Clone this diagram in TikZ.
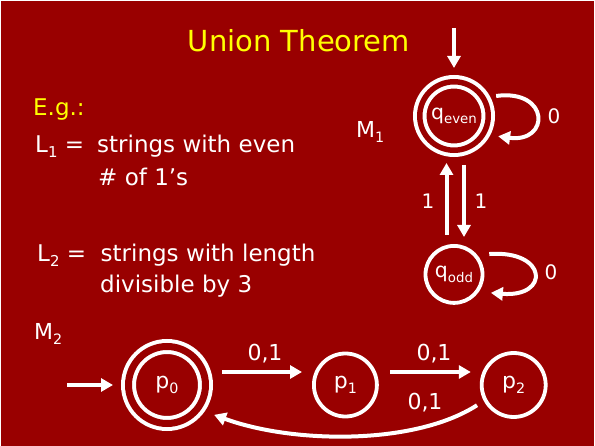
\documentclass[tikz,border=0pt]{standalone}
\usepackage{fontspec}
\setmainfont{DejaVu Sans}
\usepackage{xcolor}
\definecolor{bgred}{RGB}{153,0,0}
\definecolor{ttl}{RGB}{255,255,0}
\usetikzlibrary{arrows.meta,positioning,calc}
\makeatletter
\newcommand{\lowsub}[1]{\raisebox{-0.2em}{\fontsize{\fpeval{0.65*\f@size}}{0}\selectfont #1}}
\makeatother

\begin{document}
\begin{tikzpicture}[
  x=1pt,y=-1pt,
  txt/.style={anchor=base west,inner sep=0,text=white,font=\fontsize{23}{27}\selectfont},
  stnode/.style={circle,draw=white,line width=3.8pt,inner sep=0,text=white,font=\fontsize{22}{22}\selectfont},
  accnode/.style={stnode,line width=4pt,double=bgred},
  arr/.style={-{Triangle[length=12pt,width=13pt]},white,line width=4pt},
  lbl/.style={text=white,inner sep=0,font=\fontsize{20}{20}\selectfont}
]
  \useasboundingbox (0,0) rectangle (595,446);
  \fill[white] (0,0) rectangle (595,446);
  \fill[bgred] (1,1) rectangle (594,446);

  \node[txt,anchor=base,text=ttl,font=\fontsize{29}{29}\selectfont] (title) at (299,52) {Union Theorem};

  \node[txt,text=ttl] (eg) at (33,116) {E.g.:};
  \node[txt] (l1) at (35,153) {L\lowsub{1} =};
  \node[txt] (l1a) at (97,153) {strings with even};
  \node[txt] (l1b) at (98,186) {\# of 1’s};
  \node[txt] (l2) at (37,262) {L\lowsub{2} =};
  \node[txt] (l2a) at (100.5,262) {strings with length};
  \node[txt] (l2b) at (100,293) {divisible by 3};

  % M1
  \node[txt,font=\fontsize{22}{22}\selectfont] (m1) at (356,138) {M\lowsub{1}};
  \node[accnode,minimum size=68.5pt,double distance=5.5pt,outer sep=6.75pt,font=\fontsize{20.5}{20.5}\selectfont] (qeven) at (454,116) {q\lowsub{even}};
  \node[stnode,minimum size=57pt,below=87pt of qeven,font=\fontsize{20.5}{20.5}\selectfont] (qodd) {q\lowsub{odd}};
  \coordinate (in1) at (454,28);

  \draw[arr,shorten >=7pt] (in1) -- (qeven.north);
  \draw[arr,shorten <=6pt,shorten >=8pt] (qeven.28) .. controls +(60,-8) and +(60,8) .. (qeven.-28);
  \draw[arr,shorten <=12pt,shorten >=12pt] (qodd.40) .. controls +(71,-5) and +(71,6) .. (qodd.-35);
  \draw[arr,shorten <=9pt,shorten >=6pt] ([xshift=-7.5pt]qodd.north) -- ([xshift=-7.5pt]qeven.south);
  \draw[arr,shorten <=8pt,shorten >=7pt] ([xshift=10pt]qeven.south) -- ([xshift=10pt]qodd.north);

  \node[lbl] (e0a) at (554,116) {0};
  \node[lbl] (e0b) at (551,272) {0};
  \node[lbl] (e1a) at (428,201) {1};
  \node[lbl] (e1b) at (481,201) {1};

  % M2
  \node[txt,font=\fontsize{22}{22}\selectfont] (m2) at (34,340) {M\lowsub{2}};
  \node[accnode,minimum size=77pt,double distance=7pt,outer sep=7.5pt] (p0) at (167,385) {p\lowsub{0}};
  \node[stnode,minimum size=63pt,right=99pt of p0] (p1) {p\lowsub{1}};
  \node[stnode,minimum size=64pt,right=101pt of p1] (p2) {p\lowsub{2}};
  \coordinate (in2) at (67,385);

  \draw[arr,shorten >=8pt] (in2) -- (p0.west);
  \draw[arr,shorten <=9pt,shorten >=10pt] ([yshift=13pt]p0.east) -- ([yshift=13pt]p1.west);
  \draw[arr,shorten <=11.5pt,shorten >=9pt] ([yshift=13pt]p1.east) -- ([yshift=13pt]p2.west);
  \draw[arr,shorten <=8pt,shorten >=10pt] (p2.208) .. controls +(-70,45) and +(87,32) .. (p0.-35);

  \node[lbl,font=\fontsize{22}{22}\selectfont] (e01a) at (265,354) {0,1};
  \node[lbl,font=\fontsize{22}{22}\selectfont] (e01b) at (434,354) {0,1};
  \node[lbl,font=\fontsize{22}{22}\selectfont] (e01c) at (425,403) {0,1};
\end{tikzpicture}
\end{document}
